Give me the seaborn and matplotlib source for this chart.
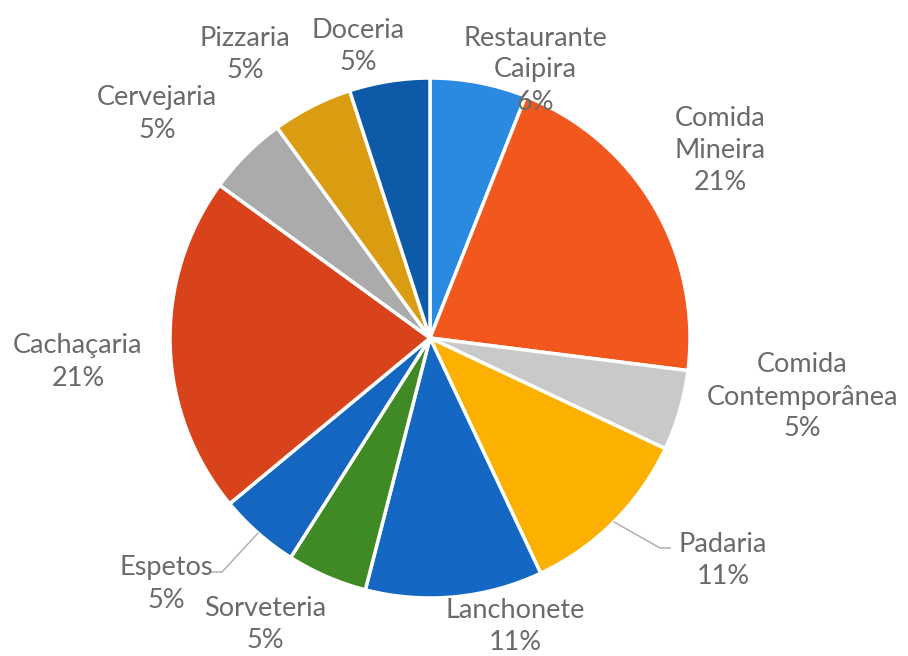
import numpy as np
import seaborn as sns
import matplotlib
matplotlib.use("Agg")
import matplotlib.pyplot as plt

# Data (clockwise from 12 o'clock)
categories = ["Restaurante\nCaipira", "Comida\nMineira", "Comida\nContemporânea", "Padaria",
              "Lanchonete", "Sorveteria", "Espetos", "Cachaçaria", "Cervejaria",
              "Pizzaria", "Doceria"]
shares = [6, 21, 5, 11, 11, 5, 5, 21, 5, 5, 5]

colors = ["#2a8ae0", "#f2581e", "#c9c9c9", "#fcb000", "#1467c2", "#3f8a24",
          "#1566c0", "#d9431c", "#ababab", "#da9d12", "#0c5aa8"]

sns.set_theme(style="white")
plt.rcParams["font.family"] = ["Lato", "DejaVu Sans"]

W, H = 908, 656
cx, cy, r = 430, 338, 260  # pie centre / radius in pixels

fig = plt.figure(figsize=(W / 100, H / 100), dpi=100)
ax = fig.add_axes([0, 0, 1, 1])

wedges, _ = ax.pie(shares, colors=colors, startangle=90, counterclock=False,
                   radius=1.0, wedgeprops=dict(edgecolor="white", linewidth=2.5))

ax.set_xlim(-cx / r, (W - cx) / r)
ax.set_ylim(-(H - cy) / r, cy / r)
ax.set_aspect("equal")
ax.axis("off")

# label block centres (pixels)
label_px = [(535, 70), (720, 150), (802, 397), (723, 560), (515, 626), (265, 625),
            (166, 584), (78, 362), (157, 114), (245, 55), (358, 47)]
leader = {3: (660, 548), 6: (222, 572)}

def to_data(p):
    return ((p[0] - cx) / r, (cy - p[1]) / r)

for i, (name, val) in enumerate(zip(categories, shares)):
    x, y = to_data(label_px[i])
    ax.text(x, y, f"{name}\n{val}%", ha="center", va="center", fontsize=19.5,
            color="#6a6a6a", linespacing=1.35)
    if i in leader:
        w = wedges[i]
        ang = np.deg2rad((w.theta1 + w.theta2) / 2)
        sx, sy = np.cos(ang), np.sin(ang)
        ex, ey = to_data(leader[i])
        hx = ex + (0.04 if i == 3 else -0.04)
        ax.plot([sx, ex, hx], [sy, ey, ey], color="#aaaaaa", lw=1)

fig.savefig("out.png", dpi=100, facecolor="white")
